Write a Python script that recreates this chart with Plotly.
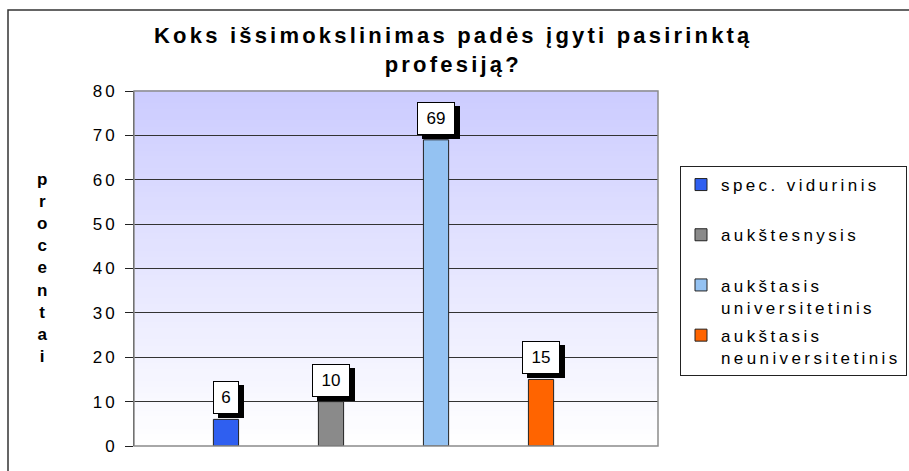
import plotly.graph_objects as go

# Duomenys
categories = ["spec. vidurinis", "aukštesnysis", "aukštasis<br>universitetinis",
              "aukštasis<br>neuniversitetinis"]
values = [6, 10, 69, 15]
colors = ["#2f5ff0", "#8a8a8a", "#94c2f2", "#ff6400"]
y_ticks = [0, 10, 20, 30, 40, 50, 60, 70, 80]

title_text = "Koks išsimokslinimas padės įgyti pasirinktą<br>profesiją?"
y_title = "procentai"

W, H = 909, 471
L, R, T, B = 134, 909 - 658, 91, 471 - 446
pw, ph = W - L - R, H - T - B


def spaced(txt, px):
    return f'<span style="letter-spacing:{px}px">{txt}</span>'


def px_x(x):
    return (x - L) / pw


def px_y(y):
    return (H - B - y) / ph


fig = go.Figure()

for i, (cat, val, col) in enumerate(zip(categories, values, colors)):
    name = cat if "<br>" in cat else cat + "<br> "
    fig.add_trace(
        go.Bar(
            x=[str(i)],
            y=[val],
            name=spaced(name, 3.4),
            width=0.24,
            marker=dict(color=col, line=dict(color="#222222", width=1)),
            legendgroup=str(i),
        )
    )

# tekstinės etiketės su šešėliu
for i, val in enumerate(values):
    box_w = 24 if val < 10 else 36
    for shadow in (True, False):
        fig.add_annotation(
            x=str(i),
            y=val,
            xref="x",
            yref="y",
            text="&nbsp;" if shadow else str(val),
            showarrow=False,
            yanchor="bottom",
            xshift=5 if shadow else 0,
            yshift=1 if shadow else 5,
            width=box_w,
            height=31,
            font=dict(family="Arial", size=17, color="black"),
            bgcolor="black" if shadow else "white",
            bordercolor="black",
            borderwidth=1,
            borderpad=0,
        )

# gradientinis fonas
n_bands = 60
top = (204, 204, 255)
for k in range(n_bands):
    f = k / (n_bands - 1)
    c = tuple(round(255 + (t - 255) * f) for t in top)
    fig.add_shape(
        type="rect",
        xref="x domain",
        yref="y domain",
        x0=0,
        x1=1,
        y0=k / n_bands,
        y1=(k + 1) / n_bands + 0.002,
        fillcolor=f"rgb{c}",
        line=dict(width=0),
        layer="below",
    )

# ploto rėmelis
fig.add_shape(
    type="rect", xref="x domain", yref="y domain", x0=0, x1=1, y0=0, y1=1,
    line=dict(color="#8c8c8c", width=1.5), layer="above",
)
# išorinis rėmelis
fig.add_shape(
    type="rect", xref="paper", yref="paper",
    x0=px_x(8), x1=px_x(960), y0=px_y(520), y1=px_y(10),
    line=dict(color="#333333", width=1.5),
)

fig.add_annotation(
    text=spaced("<b>" + title_text + "</b>", 3.2),
    xref="paper", yref="paper",
    x=px_x(453), y=px_y(50),
    xanchor="center", yanchor="middle",
    showarrow=False,
    font=dict(family="Arial", size=22, color="black"),
)

fig.add_annotation(
    text="<br>".join("<b>" + ch + "</b>" for ch in y_title),
    xref="paper", yref="paper",
    x=px_x(42), y=px_y(268),
    xanchor="center", yanchor="middle",
    showarrow=False,
    font=dict(family="Arial", size=17, color="black"),
)

fig.update_yaxes(
    range=[0, 80],
    tickvals=y_ticks,
    ticktext=[spaced(str(t), 3) for t in y_ticks],
    ticks="outside",
    ticklen=8,
    tickcolor="#222222",
    showgrid=True,
    gridcolor="#333333",
    gridwidth=1,
    showline=True,
    linecolor="#222222",
    linewidth=1,
    tickfont=dict(family="Arial", size=17, color="black"),
    ticklabelstandoff=4,
    zeroline=False,
)
fig.update_xaxes(
    range=[-0.876, 4.114],
    showticklabels=False,
    ticks="",
    showgrid=False,
    showline=False,
    zeroline=False,
)

fig.update_layout(
    width=W,
    height=H,
    margin=dict(l=L, r=R, t=T, b=B, autoexpand=False),
    barmode="overlay",
    paper_bgcolor="white",
    plot_bgcolor="white",
    font=dict(family="Arial", color="black"),
    showlegend=True,
    legend=dict(
        x=px_x(680),
        y=px_y(166),
        xanchor="left",
        yanchor="top",
        bgcolor="white",
        bordercolor="#222222",
        borderwidth=1,
        font=dict(family="Arial", size=17, color="black"),
        valign="top",
        traceorder="grouped",
        tracegroupgap=3,
    ),
)

fig.write_html(
    "out.html",
    config={"displayModeBar": False},
    post_script="document.body.style.margin='0';",
)
